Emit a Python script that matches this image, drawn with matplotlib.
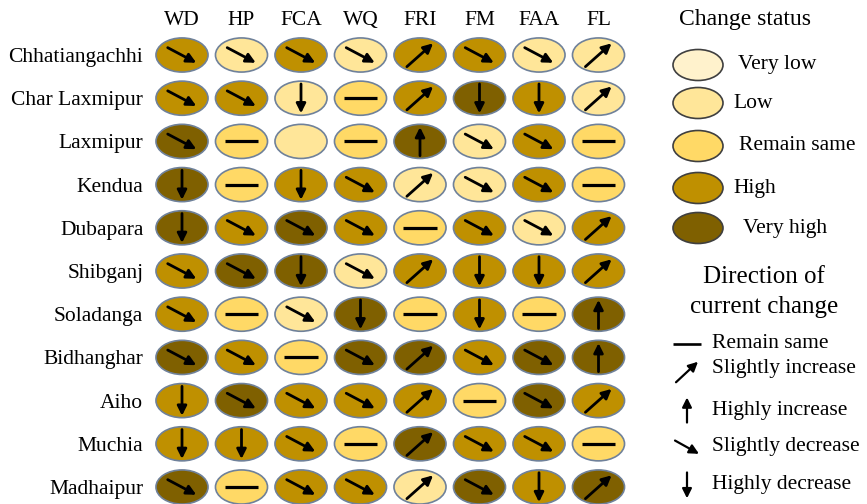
import matplotlib.pyplot as plt
from matplotlib.patches import Ellipse

plt.rcParams['font.family'] = ['Liberation Serif', 'DejaVu Serif']

indicators = ['WD', 'HP', 'FCA', 'WQ', 'FRI', 'FM', 'FAA', 'FL']
places = ['Chhatiangachhi', 'Char Laxmipur', 'Laxmipur', 'Kendua', 'Dubapara',
          'Shibganj', 'Soladanga', 'Bidhanghar', 'Aiho', 'Muchia', 'Madhaipur']

# change status: 0 very low, 1 low, 2 remain same, 3 high, 4 very high
status = [
    [3, 1, 3, 1, 3, 3, 1, 1],
    [3, 3, 1, 2, 3, 4, 3, 1],
    [4, 2, 1, 2, 4, 1, 3, 2],
    [4, 2, 3, 3, 1, 1, 3, 2],
    [4, 3, 4, 3, 2, 3, 1, 3],
    [3, 4, 4, 1, 3, 3, 3, 3],
    [3, 2, 1, 4, 2, 3, 2, 4],
    [4, 3, 2, 4, 4, 3, 4, 4],
    [3, 4, 3, 3, 3, 2, 4, 3],
    [3, 3, 3, 2, 4, 3, 3, 2],
    [4, 2, 3, 3, 1, 4, 3, 4],
]

# direction: S same, SI slightly increase, HI highly increase,
# SD slightly decrease, HD highly decrease, '' none
direction = [
    ['SD', 'SD', 'SD', 'SD', 'SI', 'SD', 'SD', 'SI'],
    ['SD', 'SD', 'HD', 'S', 'SI', 'HD', 'HD', 'SI'],
    ['SD', 'S', '', 'S', 'HI', 'SD', 'SD', 'S'],
    ['HD', 'S', 'HD', 'SD', 'SI', 'SD', 'SD', 'S'],
    ['HD', 'SD', 'SD', 'SD', 'S', 'SD', 'SD', 'SI'],
    ['SD', 'SD', 'HD', 'SD', 'SI', 'HD', 'HD', 'SI'],
    ['SD', 'S', 'SD', 'HD', 'S', 'HD', 'S', 'HI'],
    ['SD', 'SD', 'S', 'SD', 'SI', 'SD', 'SD', 'HI'],
    ['HD', 'SD', 'SD', 'SD', 'SI', 'S', 'SD', 'SI'],
    ['HD', 'HD', 'SD', 'S', 'SI', 'SD', 'SD', 'S'],
    ['SD', 'S', 'SD', 'SD', 'SI', 'SD', 'HD', 'SI'],
]

status_labels = ['Very low', 'Low', 'Remain same', 'High', 'Very high']
status_colors = ['#FFF2CC', '#FFE699', '#FFD966', '#BF9000', '#7F6000']
dir_labels = ['Remain same', 'Slightly increase', 'Highly increase',
              'Slightly decrease', 'Highly decrease']
dir_codes = ['S', 'SI', 'HI', 'SD', 'HD']

# arrow shapes (start dx, dy, end dx, dy) as fractions of cell
shapes = {
    'S': (-0.28, 0, 0.28, 0),
    'SI': (-0.22, 0.27, 0.22, -0.27),
    'HI': (0, 0.33, 0, -0.33),
    'SD': (-0.24, -0.17, 0.24, 0.18),
    'HD': (0, -0.33, 0, 0.35),
}

W, H = 867, 504
fig = plt.figure(figsize=(W / 100, H / 100), dpi=100)

# grid axes: columns/rows in index units
x0, dx = 182, 59.5
y0, dy = 55, 43.2
ax = fig.add_axes([0, 0, 1, 1])
ax.set_xlim(-x0 / dx, (W - x0) / dx)
ax.set_ylim((H - y0) / dy, -y0 / dy)
ax.axis('off')


def draw_dir(a, x, y, code, sx, sy, lw=2.0):
    if not code:
        return
    x1, y1, x2, y2 = shapes[code]
    if code == 'S':
        a.plot([x + x1 * sx, x + x2 * sx], [y + y1 * sy, y + y2 * sy],
               color='black', lw=lw + 0.3, solid_capstyle='butt')
    else:
        a.annotate('', xy=(x + x2 * sx, y + y2 * sy),
                   xytext=(x + x1 * sx, y + y1 * sy),
                   arrowprops=dict(arrowstyle='-|>', color='black', lw=lw,
                                   mutation_scale=14, shrinkA=0, shrinkB=0))


for j, place in enumerate(places):
    ax.text(-0.65, j + 0.06, place, ha='right', va='center', fontsize=15.5)
    for i in range(len(indicators)):
        ax.add_patch(Ellipse((i, j), 0.875, 0.79,
                             facecolor=status_colors[status[j][i]],
                             edgecolor='#6F819A', lw=1.2))
        draw_dir(ax, i, j, direction[j][i], 1.0, 1.0)

for i, ind in enumerate(indicators):
    ax.text(i, -0.8, ind, ha='center', va='center', fontsize=15.5)

# legend axes in pixel units
lg = fig.add_axes([0, 0, 1, 1])
lg.set_xlim(0, W)
lg.set_ylim(H, 0)
lg.axis('off')
lg.patch.set_alpha(0)

lg.text(745, 20, 'Change status', ha='center', va='center', fontsize=17)
leg_y = [65, 103, 146, 188, 228]
leg_tx = [738, 733, 739, 733, 743]
for k, lab in enumerate(status_labels):
    lg.add_patch(Ellipse((698, leg_y[k]), 50, 31,
                         facecolor=status_colors[k], edgecolor='#3F3F3F', lw=1.2))
    lg.text(leg_tx[k], leg_y[k], lab, ha='left', va='center', fontsize=15.5)

lg.text(764, 277, 'Direction of', ha='center', va='center', fontsize=18)
lg.text(764, 307, 'current change', ha='center', va='center', fontsize=18)
dir_y = [344, 372, 410, 447, 485]
for k, lab in enumerate(dir_labels):
    draw_dir(lg, 687, dir_y[k], dir_codes[k], 50, 38, lw=1.6)
    lg.text(712, dir_y[k] - 4 if k == 1 else dir_y[k], lab,
            ha='left', va='center', fontsize=15.5)

fig.savefig('out.png', dpi=100)
